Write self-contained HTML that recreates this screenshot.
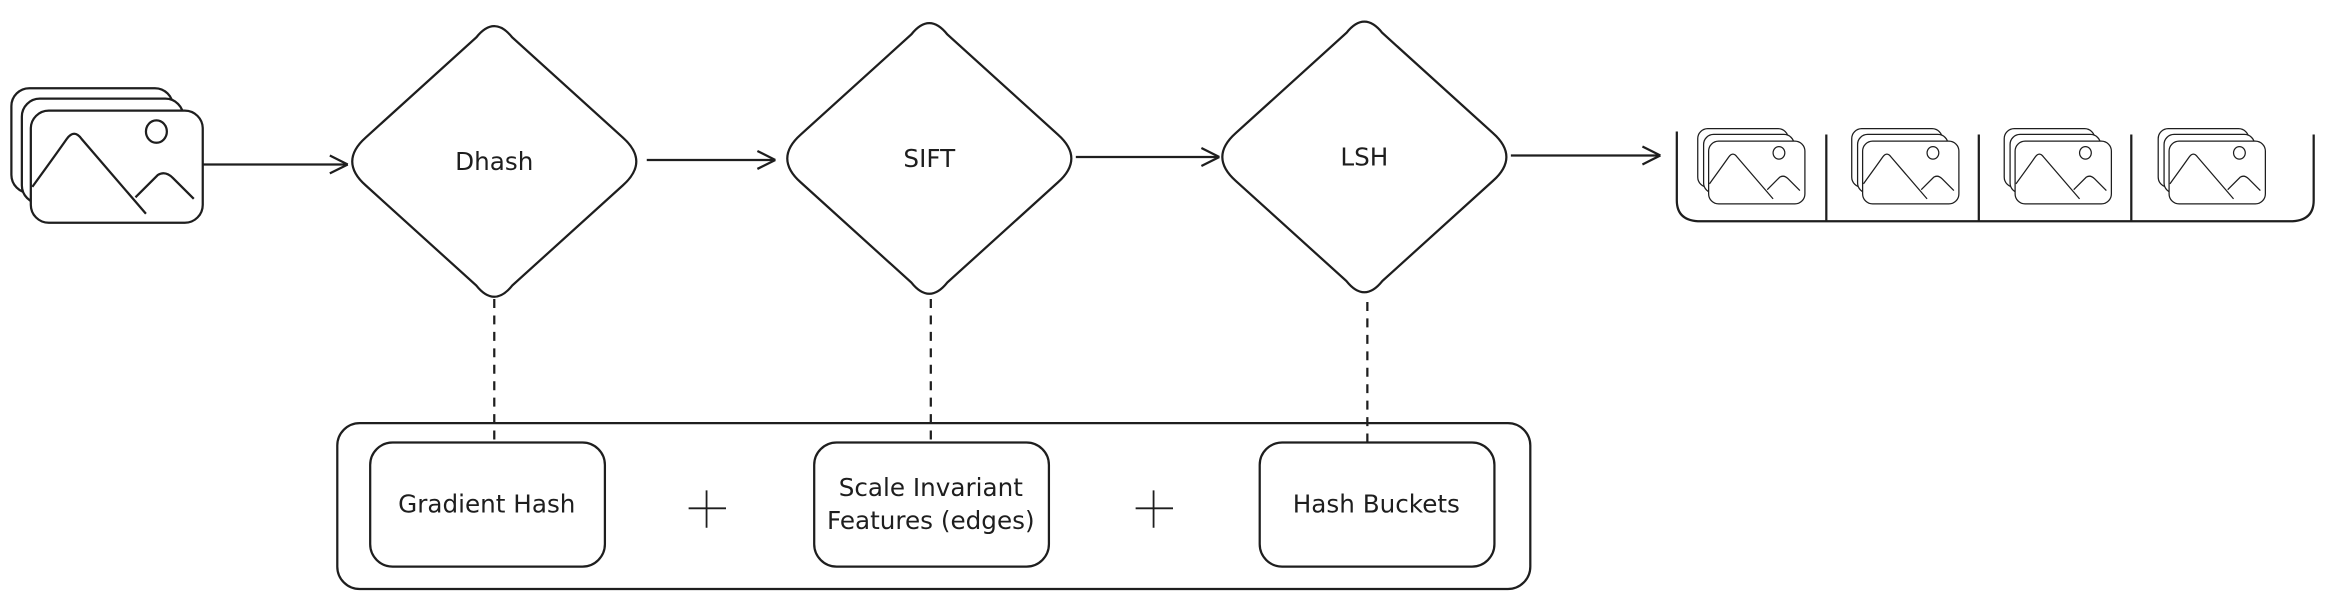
<!DOCTYPE html>
<html><head><meta charset="utf-8"><style>
html,body{margin:0;padding:0;background:#fff;width:2346px;height:598px;overflow:hidden}
svg{display:block}
text{font-family:"DejaVu Sans","Liberation Sans",sans-serif;font-size:16.5px;fill:#1e1e1e;text-anchor:middle;dominant-baseline:middle}
.ns *{vector-effect:non-scaling-stroke}
</style></head><body>
<svg width="2346" height="598" viewBox="0 0 1568 400" xmlns="http://www.w3.org/2000/svg">
<defs>
<g id="img">
 <rect x="0" y="0" width="108" height="70" rx="12" fill="#fff" stroke="#1e1e1e" stroke-width="1.5"/>
 <rect x="7" y="7" width="108" height="70" rx="12" fill="#fff" stroke="#1e1e1e" stroke-width="1.5"/>
 <rect x="13" y="15" width="115" height="75" rx="12" fill="#fff" stroke="#1e1e1e" stroke-width="1.5"/>
 <ellipse cx="97" cy="29" rx="7" ry="7.5" fill="none" stroke="#1e1e1e" stroke-width="1.5"/>
 <path d="M14 66 Q30 44 37 34 Q42 27 47 34 L90 84" fill="none" stroke="#1e1e1e" stroke-width="1.5"/>
 <path d="M83 73 L98 58 Q103 55 108 60 L122 74" fill="none" stroke="#1e1e1e" stroke-width="1.5"/>
</g>
<g id="arr"><path d="M0 0 L-12 -6 M0 0 L-12 6" stroke="#1e1e1e" stroke-width="1.5" fill="none"/></g>
</defs>
<g fill="none" stroke="#1e1e1e" stroke-width="1.5">
<use href="#img" x="7" y="59"/>
<line x1="135" y1="110" x2="232" y2="110"/><use href="#arr" x="232" y="110"/>
<path d="M318 25 Q330 10 342 25 L416 92 Q434 108 416 124 L342 191 Q330 206 318 191 L244 124 Q226 108 244 92 Z"/>
<line x1="432" y1="107" x2="518" y2="107"/><use href="#arr" x="518" y="107"/>
<path d="M609 23 Q621 8 633 23 L707 90 Q725 106 707 122 L633 189 Q621 204 609 189 L535 122 Q517 106 535 90 Z"/>
<line x1="719" y1="105" x2="815" y2="105"/><use href="#arr" x="815" y="105"/>
<path d="M900 22 Q912 7 924 22 L998 89 Q1016 105 998 121 L924 188 Q912 203 900 188 L826 121 Q808 105 826 89 Z"/>
<line x1="1010" y1="104" x2="1110" y2="104"/><use href="#arr" x="1110" y="104"/>
<path d="M1121 88 L1121 134 Q1121 148 1137 148 L1531 148 Q1547 148 1547 134 L1547 90"/>
<line x1="1221" y1="90" x2="1221" y2="148"/>
<line x1="1323" y1="90" x2="1323" y2="148"/>
<line x1="1425" y1="90" x2="1425" y2="148"/>
<g stroke-dasharray="6,5">
<line x1="330" y1="200" x2="330" y2="296"/>
<line x1="622" y1="200" x2="622" y2="298"/>
<line x1="914" y1="202" x2="914" y2="300"/>
</g>
<rect x="225" y="283" width="798" height="111" rx="15"/>
<rect x="247" y="296" width="157" height="83" rx="15"/>
<rect x="544" y="296" width="157" height="83" rx="15"/>
<rect x="842" y="296" width="157" height="83" rx="15"/>
<path d="M460 340 H485 M472 328 V353 M759 340 H784 M771 328 V353" stroke-width="1.2"/>
</g>
<g class="ns" transform="translate(1135,86) scale(0.56)"><use href="#img"/></g>
<g class="ns" transform="translate(1238,86) scale(0.56)"><use href="#img"/></g>
<g class="ns" transform="translate(1340,86) scale(0.56)"><use href="#img"/></g>
<g class="ns" transform="translate(1443,86) scale(0.56)"><use href="#img"/></g>
<text x="330" y="109">Dhash</text>
<text x="621" y="107">SIFT</text>
<text x="912" y="106">LSH</text>
<text x="325" y="338">Gradient Hash</text>
<text x="622" y="327">Scale Invariant</text>
<text x="622" y="349">Features (edges)</text>
<text x="920" y="338">Hash Buckets</text>
</svg>
</body></html>
